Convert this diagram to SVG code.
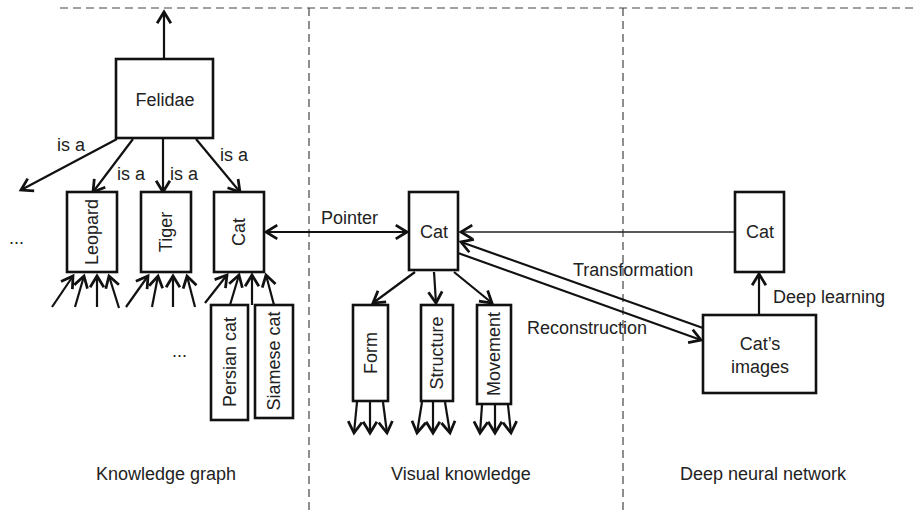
<svg xmlns="http://www.w3.org/2000/svg" width="914" height="515" viewBox="0 0 914 515">
<defs>
<marker id="ah" markerUnits="userSpaceOnUse" markerWidth="20" markerHeight="20" viewBox="-12 -8 16 16" refX="0" refY="0" orient="auto-start-reverse">
<path d="M -9 -5.5 L 0 0 L -9 5.5" fill="none" stroke="#111" stroke-width="2.2" stroke-linejoin="miter"/>
</marker>
</defs>
<style>
text{font-family:"Liberation Sans",Arial,sans-serif;font-size:18px;fill:#222;}
.box{fill:#fff;stroke:#111;stroke-width:2.6;}
.e{stroke:#111;stroke-width:2.2;fill:none;marker-end:url(#ah);}
.e2{stroke:#111;stroke-width:2.2;fill:none;marker-end:url(#ah);marker-start:url(#ah);}
.thin{stroke:#222;stroke-width:1.6;fill:none;marker-end:url(#ah);}
.dash{stroke:#444;stroke-width:1.2;stroke-dasharray:8 5;fill:none;}
.c{text-anchor:middle;}
</style>
<rect width="914" height="515" fill="#fff"/>
<g id="separators">
<line class="dash" x1="60" y1="8" x2="914" y2="8"/>
<line class="dash" x1="309" y1="8" x2="309" y2="515"/>
<line class="dash" x1="623" y1="8" x2="623" y2="515"/>
</g>
<g id="connectors">
<line class="e" x1="164" y1="59" x2="164" y2="12"/>
<line class="e" x1="117" y1="139" x2="21" y2="190"/>
<line class="e" x1="133" y1="139" x2="93" y2="192"/>
<line class="e" x1="163" y1="139" x2="163" y2="192"/>
<line class="e" x1="196" y1="139" x2="240" y2="192"/>
<line class="e" x1="52" y1="307" x2="73" y2="276"/>
<line class="e" x1="75" y1="307" x2="84" y2="276"/>
<line class="e" x1="97" y1="307" x2="97" y2="276"/>
<line class="e" x1="119" y1="308" x2="109" y2="276"/>
<line class="e" x1="126" y1="307" x2="148" y2="276"/>
<line class="e" x1="152" y1="307" x2="158" y2="276"/>
<line class="e" x1="173" y1="307" x2="173" y2="276"/>
<line class="e" x1="195" y1="307" x2="187" y2="276"/>
<line class="e" x1="205" y1="303" x2="227" y2="275"/>
<line class="e" x1="230" y1="305" x2="239" y2="275"/>
<line class="e" x1="252" y1="305" x2="252" y2="275"/>
<line class="e" x1="274" y1="305" x2="266" y2="275"/>
<line class="e2" x1="266" y1="232" x2="407" y2="232"/>
<line class="thin" x1="735" y1="232" x2="461" y2="232"/>
<line class="e" x1="415" y1="272" x2="373" y2="303"/>
<line class="e" x1="434" y1="272" x2="436" y2="303"/>
<line class="e" x1="454" y1="272" x2="492" y2="303"/>
<line class="e" x1="357" y1="402" x2="354" y2="433"/>
<line class="e" x1="370" y1="402" x2="370" y2="433"/>
<line class="e" x1="383" y1="402" x2="387" y2="433"/>
<line class="e" x1="422" y1="402" x2="417" y2="433"/>
<line class="e" x1="433" y1="402" x2="433" y2="433"/>
<line class="e" x1="445" y1="402" x2="450" y2="433"/>
<line class="e" x1="482" y1="405" x2="480" y2="433"/>
<line class="e" x1="495" y1="405" x2="495" y2="433"/>
<line class="e" x1="508" y1="405" x2="511" y2="433"/>
<line class="e" x1="703" y1="328" x2="461" y2="242"/>
<line class="e" x1="458" y1="253" x2="701" y2="340"/>
<line class="e" x1="759" y1="315" x2="759" y2="274"/>
<text x="57" y="151">is a</text>
<text x="117" y="180">is a</text>
<text x="170" y="180">is a</text>
<text x="220" y="161">is a</text>
<text x="321" y="224">Pointer</text>
<text x="573" y="276">Transformation</text>
<text x="527" y="334">Reconstruction</text>
<text x="773" y="303">Deep learning</text>
</g>
<g id="felidae">
<rect class="box" x="116" y="59" width="97" height="79"/>
<text class="c" x="165" y="106">Felidae</text>
</g>
<g id="leopard">
<rect class="box" x="67" y="192" width="50" height="80"/>
<text class="c" transform="translate(98,232) rotate(-90)">Leopard</text>
</g>
<g id="tiger">
<rect class="box" x="141" y="192" width="50" height="80"/>
<text class="c" transform="translate(172,232) rotate(-90)">Tiger</text>
</g>
<g id="cat-kg">
<rect class="box" x="214" y="192" width="50" height="80"/>
<text class="c" transform="translate(245,232) rotate(-90)">Cat</text>
</g>
<g id="persian">
<rect class="box" x="211" y="305" width="37" height="115"/>
<text class="c" transform="translate(236,362) rotate(-90)">Persian cat</text>
</g>
<g id="siamese">
<rect class="box" x="255" y="305" width="38" height="113"/>
<text class="c" transform="translate(280,361) rotate(-90)">Siamese cat</text>
</g>
<g id="ellipses">
<text x="9" y="244">...</text>
<text x="172" y="357">...</text>
</g>
<g id="cat-vk">
<rect class="box" x="409" y="192" width="49" height="78"/>
<text class="c" x="434" y="238">Cat</text>
</g>
<g id="form">
<rect class="box" x="353" y="305" width="35" height="96"/>
<text class="c" transform="translate(377,353) rotate(-90)">Form</text>
</g>
<g id="structure">
<rect class="box" x="421" y="305" width="32" height="96"/>
<text class="c" transform="translate(443,353) rotate(-90)">Structure</text>
</g>
<g id="movement">
<rect class="box" x="477" y="305" width="34" height="99"/>
<text class="c" transform="translate(500,354) rotate(-90)">Movement</text>
</g>
<g id="cat-dnn">
<rect class="box" x="735" y="192" width="49" height="80"/>
<text class="c" x="760" y="238">Cat</text>
</g>
<g id="cats-images">
<rect class="box" x="703" y="315" width="113" height="78"/>
<text class="c" x="760" y="350">Cat’s</text>
<text class="c" x="760" y="373">images</text>
</g>
<g id="section-labels">
<text class="c" x="166" y="480">Knowledge graph</text>
<text class="c" x="461" y="480">Visual knowledge</text>
<text class="c" x="763" y="480">Deep neural network</text>
</g>
</svg>
